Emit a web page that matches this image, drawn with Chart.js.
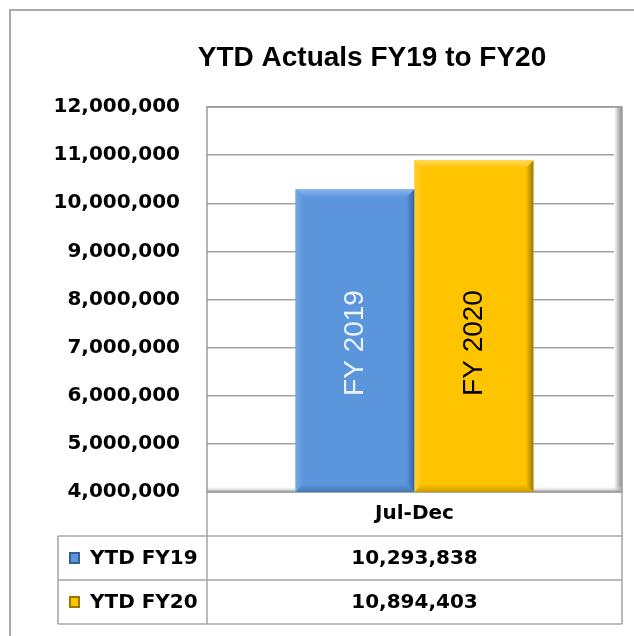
<!DOCTYPE html>
<html>
<head>
<meta charset="utf-8">
<title>YTD Actuals FY19 to FY20</title>
<script src="https://cdn.jsdelivr.net/npm/chart.js@4.4.1/dist/chart.umd.min.js"></script>
<style>
  body { margin: 0; background: #fff; }
  #wrap { position: relative; width: 634px; height: 636px; overflow: hidden; }
  #frame { position: absolute; left: 9px; top: 9px; width: 700px; height: 700px; border: 2px solid #a9a9a9; }
  #chart { position: absolute; left: 0; top: 0; }
</style>
</head>
<body>
<div id="wrap">
  <div id="frame"></div>
  <canvas id="chart" width="634" height="636"></canvas>
</div>
<script>
// data
const titleText = 'YTD Actuals FY19 to FY20';
const categories = ['Jul-Dec'];
const seriesNames = ['YTD FY19', 'YTD FY20'];
const fy19Values = [10293838];
const fy20Values = [10894403];
const barLabels = ['FY 2019', 'FY 2020'];
const yMin = 4000000;
const yMax = 12000000;
const yStep = 1000000;

// styles
const fills = ['#5b96dc', '#ffc400'];
const bevels = [
  { top: '#8cb8ec', left: '#74a6e2', right: '#34609a', bottom: '#4677b5' },
  { top: '#ffdc60', left: '#ffd02e', right: '#9c7700', bottom: '#c99a00' }
];
const barTextColors = ['#eef3fb', '#000000'];
const lineColor = '#a6a6a6';
const boldFont = 'bold 20px "DejaVu Sans"';

const fmt = v => Number(v).toLocaleString('en-US');

function poly(ctx, pts, color) {
  ctx.beginPath();
  ctx.moveTo(pts[0][0], pts[0][1]);
  for (let i = 1; i < pts.length; i++) ctx.lineTo(pts[i][0], pts[i][1]);
  ctx.closePath();
  ctx.fillStyle = color;
  ctx.fill();
}

function ramp(ctx, x0, y0, x1, y1, from, to) {
  const g = ctx.createLinearGradient(x0, y0, x1, y1);
  g.addColorStop(0, from);
  g.addColorStop(1, to);
  return g;
}

// title drawn by hand so it sits where the original does
const titlePlugin = {
  id: 'titlePlugin',
  afterDraw(chart) {
    const ctx = chart.ctx;
    ctx.save();
    ctx.font = 'bold 28px "Liberation Sans"';
    ctx.fillStyle = '#000';
    ctx.textAlign = 'center';
    ctx.textBaseline = 'middle';
    ctx.fillText(titleText, 372, 58);
    ctx.restore();
  }
};

// 3d-ish plot wall
const wallPlugin = {
  id: 'wallPlugin',
  beforeDatasetsDraw(chart) {
    const { ctx, chartArea: a } = chart;
    ctx.save();
    ctx.fillStyle = ramp(ctx, a.right - 8, 0, a.right, 0, '#ffffff', '#8c8c8c');
    ctx.fillRect(a.right - 8, a.top, 8, a.bottom - a.top);
    ctx.fillStyle = ramp(ctx, 0, a.bottom - 6, 0, a.bottom, 'rgba(255,255,255,0)', '#9a9a9a');
    ctx.fillRect(a.left, a.bottom - 6, a.right - a.left, 6);
    ctx.strokeStyle = '#9c9c9c';
    ctx.lineWidth = 1.5;
    ctx.strokeRect(a.left, a.top, a.right - a.left, a.bottom - a.top);
    ctx.restore();
  }
};

// bevel edges and rotated labels on the bars
const barPlugin = {
  id: 'barPlugin',
  afterDatasetsDraw(chart) {
    const { ctx, chartArea: a } = chart;
    const b = 8;
    chart.data.datasets.forEach((ds, i) => {
      const meta = chart.getDatasetMeta(i);
      meta.data.forEach(el => {
        const l = el.x - el.width / 2, r = el.x + el.width / 2;
        const t = el.y, bs = Math.min(el.base, a.bottom);
        const c = bevels[i];
        ctx.save();
        poly(ctx, [[l, t], [l + b, t + b], [l + b, bs - b], [l, bs]], ramp(ctx, l, 0, l + b, 0, c.left, fills[i]));
        poly(ctx, [[r, t], [r - b, t + b], [r - b, bs - b], [r, bs]], ramp(ctx, r - b, 0, r, 0, fills[i], c.right));
        poly(ctx, [[l, bs], [l + b, bs - b], [r - b, bs - b], [r, bs]], ramp(ctx, 0, bs - b, 0, bs, fills[i], c.bottom));
        poly(ctx, [[l, t], [r, t], [r - b, t + b], [l + b, t + b]], ramp(ctx, 0, t, 0, t + b, c.top, fills[i]));
        // label
        const ty = a.bottom - 0.387 * (a.bottom - a.top);
        ctx.translate(el.x, ty);
        ctx.rotate(-Math.PI / 2);
        ctx.font = '28px "Liberation Sans"';
        ctx.fillStyle = barTextColors[i];
        ctx.textAlign = 'center';
        ctx.textBaseline = 'middle';
        ctx.fillText(barLabels[i], 0, 0);
        ctx.restore();
      });
    });
  }
};

// data table under the axis
const tablePlugin = {
  id: 'tablePlugin',
  afterDraw(chart) {
    const { ctx, chartArea: a, scales } = chart;
    const rowH = 44;
    const left = a.left - 149;
    const right = a.right;
    const axisTop = a.bottom;
    const rowTop = a.bottom + 44;
    const bottom = rowTop + rowH * seriesNames.length;
    ctx.save();
    ctx.strokeStyle = lineColor;
    ctx.lineWidth = 1.5;
    ctx.beginPath();
    ctx.moveTo(a.left, axisTop); ctx.lineTo(a.left, bottom);
    ctx.moveTo(right, axisTop); ctx.lineTo(right, bottom);
    ctx.moveTo(left, rowTop); ctx.lineTo(left, bottom);
    for (let k = 0; k <= seriesNames.length; k++) {
      ctx.moveTo(left, rowTop + k * rowH);
      ctx.lineTo(right, rowTop + k * rowH);
    }
    ctx.stroke();

    const rows = [fy19Values, fy20Values];
    ctx.font = boldFont;
    ctx.textBaseline = 'middle';
    seriesNames.forEach((name, i) => {
      const cy = rowTop + rowH * i + rowH / 2;
      // legend key
      const c = bevels[i];
      poly(ctx, [[left + 11, cy - 6], [left + 22, cy - 6], [left + 22, cy + 6], [left + 11, cy + 6]], c.right);
      poly(ctx, [[left + 13, cy - 4], [left + 20, cy - 4], [left + 20, cy + 4], [left + 13, cy + 4]], fills[i]);
      ctx.fillStyle = '#000';
      ctx.textAlign = 'left';
      ctx.fillText(name, left + 32, cy + 1);
      ctx.textAlign = 'center';
      rows[i].forEach((v, j) => {
        ctx.fillText(fmt(v), scales.x.getPixelForValue(j), cy + 1);
      });
    });
    ctx.restore();
  }
};

new Chart(document.getElementById('chart'), {
  type: 'bar',
  data: {
    labels: categories,
    datasets: [
      { label: seriesNames[0], data: fy19Values, backgroundColor: fills[0] },
      { label: seriesNames[1], data: fy20Values, backgroundColor: fills[1] }
    ]
  },
  options: {
    responsive: false,
    animation: false,
    devicePixelRatio: 1,
    categoryPercentage: 0.573,
    barPercentage: 1,
    layout: { padding: { left: 50, right: 12, top: 107, bottom: 100 } },
    plugins: {
      legend: { display: false },
      title: { display: false },
      tooltip: { enabled: false }
    },
    scales: {
      x: {
        grid: { display: false, drawTicks: false },
        border: { display: false },
        ticks: { color: '#000', padding: 10, font: { family: 'DejaVu Sans', weight: 'bold', size: 20 } },
        afterFit: s => { s.height = 44; }
      },
      y: {
        min: yMin,
        max: yMax,
        grid: { color: '#a3a3a3', lineWidth: 1.5, drawTicks: false },
        border: { display: false },
        ticks: {
          stepSize: yStep,
          padding: 27,
          color: '#000',
          font: { family: 'DejaVu Sans', weight: 'bold', size: 20 },
          callback: v => fmt(v)
        },
        afterFit: s => { s.width = 157; }
      }
    }
  },
  plugins: [wallPlugin, barPlugin, tablePlugin, titlePlugin]
});
</script>
</body>
</html>
